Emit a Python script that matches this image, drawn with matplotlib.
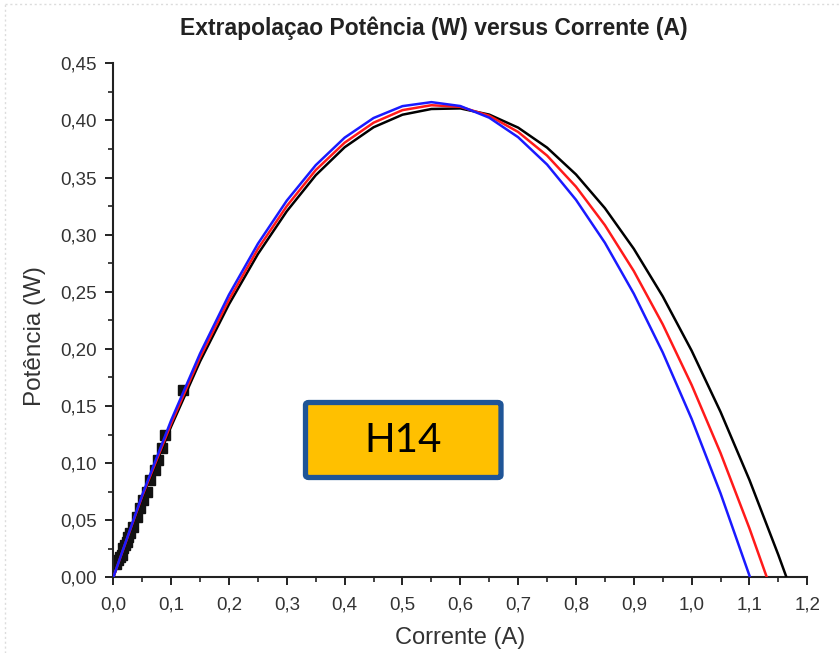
import matplotlib
matplotlib.use("Agg")
import matplotlib.pyplot as plt
from matplotlib.patches import FancyBboxPatch
from matplotlib.lines import Line2D
from matplotlib.ticker import MultipleLocator, FuncFormatter

# ---- data ----
I_grid = [0.00, 0.05, 0.10, 0.15, 0.20, 0.25, 0.30, 0.35, 0.40, 0.45, 0.50, 0.55,
          0.60, 0.65, 0.70, 0.75, 0.80, 0.85, 0.90, 0.95, 1.00, 1.05, 1.10]

blue_I = I_grid[:-1] + [1.101]
blue_P = [0.0, 0.0721, 0.1374, 0.1959, 0.2474, 0.2920, 0.3298, 0.3608, 0.3849, 0.4021,
          0.4125, 0.4160, 0.4126, 0.4024, 0.3853, 0.3614, 0.3305, 0.2929, 0.2483, 0.1969,
          0.1387, 0.0735, 0.0]

red_I = I_grid + [1.130]
red_P = [0.0, 0.0710, 0.1345, 0.1925, 0.2430, 0.2875, 0.3250, 0.3565, 0.3805, 0.3980,
         0.4090, 0.4133, 0.4119, 0.4041, 0.3899, 0.3692, 0.3420, 0.3083, 0.2681, 0.2215,
         0.1684, 0.1088, 0.0428, 0.0]

black_I = I_grid + [1.15, 1.164]
black_P = [0.0, 0.0700, 0.1320, 0.1890, 0.2390, 0.2830, 0.3205, 0.3520, 0.3765, 0.3940,
           0.4050, 0.4100, 0.4105, 0.4051, 0.3937, 0.3762, 0.3527, 0.3232, 0.2876, 0.2460,
           0.1984, 0.1448, 0.0852, 0.0195, 0.0]

pts_I = [0.0050, 0.0086, 0.0115, 0.0145, 0.0173, 0.0200, 0.0232, 0.0260, 0.0289, 0.0346,
         0.0405, 0.0462, 0.0519, 0.0577, 0.0635, 0.0720, 0.0778, 0.0837, 0.0894, 0.1210]
pts_P = [0.0120, 0.0151, 0.0175, 0.0195, 0.0254, 0.0280, 0.0312, 0.0350, 0.0385, 0.0443,
         0.0531, 0.0604, 0.0677, 0.0750, 0.0852, 0.0940, 0.1027, 0.1130, 0.1246, 0.1640]

title = "Extrapolaçao Potência (W) versus Corrente (A)"
xlabel = "Corrente (A)"
ylabel = "Potência (W)"
label_box = "H14"

# ---- figure ----
W, H = 839, 653
fig = plt.figure(figsize=(W / 100, H / 100), dpi=100)
plt.rcParams['font.family'] = ['Liberation Sans', 'DejaVu Sans']

# faint decorative page border (left and top edges)
fig.add_artist(Line2D([5 / W, 5 / W], [0, 1 - 4 / H], transform=fig.transFigure,
                      color='#dcdcdc', lw=1.0, ls=(0, (1.5, 2))))
fig.add_artist(Line2D([5 / W, 1], [1 - 4 / H, 1 - 4 / H], transform=fig.transFigure,
                      color='#dcdcdc', lw=1.0, ls=(0, (1.5, 2))))

x0, x1 = 113.3, 807.3
y0, y1 = 577.3, 63.3
ax = fig.add_axes([x0 / W, 1 - y0 / H, (x1 - x0) / W, (y0 - y1) / H])

ax.plot(pts_I, pts_P, linestyle='none', marker='s', ms=7, color='#111111', zorder=2)
ax.plot(black_I, black_P, color='black', lw=1.8, zorder=3)
ax.plot(red_I, red_P, color='#ff1a1a', lw=1.8, zorder=4)
ax.plot(blue_I, blue_P, color='#1a1aff', lw=1.8, zorder=5)

ax.set_xlim(0, 1.2)
ax.set_ylim(0, 0.45)
for s in ['top', 'right']:
    ax.spines[s].set_visible(False)
for s in ['left', 'bottom']:
    ax.spines[s].set_linewidth(1.5)
    ax.spines[s].set_color('#222222')

ax.xaxis.set_major_locator(MultipleLocator(0.1))
ax.xaxis.set_minor_locator(MultipleLocator(0.05))
ax.yaxis.set_major_locator(MultipleLocator(0.05))
ax.yaxis.set_minor_locator(MultipleLocator(0.025))
ax.xaxis.set_major_formatter(FuncFormatter(lambda v, p: f"{v:.1f}".replace('.', ',')))
ax.yaxis.set_major_formatter(FuncFormatter(lambda v, p: f"{v:.2f}".replace('.', ',')))
ax.tick_params(which='major', direction='out', length=6, width=1.4, color='#222222',
               labelsize=13.5, labelcolor='#333333')
ax.tick_params(axis='x', which='major', pad=8)
ax.tick_params(axis='y', which='major', pad=6)
ax.tick_params(which='minor', direction='out', length=3.5, width=1.2, color='#222222')

fig.text(460 / W, 1 - 638 / H, xlabel, ha='center', va='center', fontsize=17,
         color='#333333')
fig.text(35 / W, 1 - 336 / H, ylabel, ha='center', va='center', fontsize=17.5,
         rotation=90, color='#333333')

fig.text(434 / W, 1 - 28 / H, title, ha='center', va='center', fontsize=16.5,
         fontweight='bold', color='#222222')

# H14 label box (figure pixel coords)
bx0, by0, bx1, by1 = 305.5, 402.5, 501, 477.5
box = FancyBboxPatch((bx0 / W, 1 - by1 / H), (bx1 - bx0) / W, (by1 - by0) / H,
                     boxstyle="round,pad=0,rounding_size=0.004",
                     transform=fig.transFigure, facecolor='#FFC000',
                     edgecolor='#1F5597', linewidth=3.8, zorder=10)
fig.patches.append(box)
fig.text((bx0 + bx1) / 2 / W, 1 - 441 / H, label_box, ha='center', va='center',
         fontsize=29, family=['Lato', 'DejaVu Sans'], color='black', zorder=11)

fig.savefig("out.png", dpi=100)
